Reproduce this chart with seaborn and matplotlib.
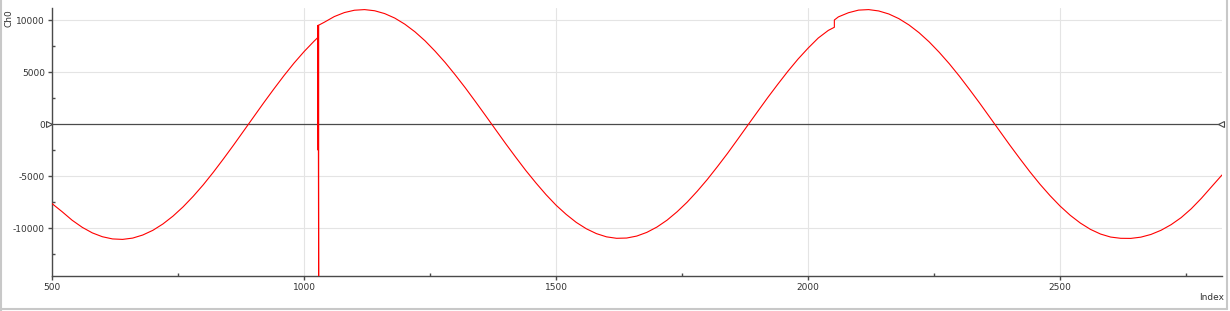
import matplotlib
matplotlib.use("Agg")
import matplotlib.pyplot as plt
import matplotlib.transforms as mtransforms
from matplotlib.lines import Line2D
import seaborn as sns
import pandas as pd

# ---- data ----
index_a = [500, 520, 540, 560, 580, 600, 620, 640, 660, 680, 700, 720, 740, 760, 780,
           800, 820, 840, 860, 880, 900, 920, 940, 960, 980, 1000, 1020, 1027]
ch0_a = [-7650, -8430, -9255, -9935, -10470, -10840, -11050, -11095, -10970, -10675,
         -10225, -9613, -8858, -7970, -6960, -5850, -4640, -3360, -2040, -680, 680,
         2040, 3360, 4640, 5850, 6960, 7970, 8300]

# glitch around index 1028
index_glitch = [1028, 1028, 1028, 1029, 1029]
ch0_glitch = [9500, -2500, 9450, -16000, 9500]

index_b = [1040, 1060, 1080, 1100, 1120, 1140, 1160, 1180, 1200, 1220, 1240, 1260, 1280,
           1300, 1320, 1340, 1360, 1380, 1400, 1420, 1440, 1460, 1480, 1500, 1520, 1540,
           1560, 1580, 1600, 1620, 1640, 1660, 1680, 1700, 1720, 1740, 1760, 1780, 1800,
           1820, 1840, 1860, 1880, 1900, 1920, 1940, 1960, 1980, 2000, 2020, 2040, 2052]
ch0_b = [9780, 10330, 10715, 10940, 11000, 10890, 10615, 10185, 9595, 8865, 8000, 7000,
         5910, 4720, 3470, 2155, 815, -540, -1890, -3200, -4475, -5665, -6790, -7810,
         -8690, -9460, -10075, -10540, -10850, -10990, -10965, -10775, -10420, -9910,
         -9250, -8440, -7515, -6465, -5330, -4100, -2830, -1490, -135, 1210, 2550, 3835,
         5080, 6245, 7300, 8265, 9000, 9300]

index_c = [2052, 2060, 2080, 2100, 2120, 2140, 2160, 2180, 2200, 2220, 2240, 2260, 2280,
           2300, 2320, 2340, 2360, 2380, 2400, 2420, 2440, 2460, 2480, 2500, 2520, 2540,
           2560, 2580, 2600, 2620, 2640, 2660, 2680, 2700, 2720, 2740, 2760, 2780, 2800, 2821]
ch0_c = [10000, 10300, 10700, 10950, 11000, 10870, 10580, 10130, 9525, 8780, 7900, 6895,
         5795, 4600, 3330, 2025, 675, -675, -2025, -3330, -4600, -5795, -6895, -7900,
         -8780, -9525, -10130, -10580, -10870, -10990, -11000, -10880, -10620, -10220,
         -9680, -9000, -8150, -7150, -6050, -4900]

x_ticks = [500, 1000, 1500, 2000, 2500]
y_ticks = [-10000, -5000, 0, 5000, 10000]
y_tick_labels = ["-10000", "-5000", "0", "5000", "10000"]

df = pd.DataFrame({
    "Index": index_a + index_glitch + index_b + index_c,
    "Ch0": ch0_a + ch0_glitch + ch0_b + ch0_c,
})

sns.set_style("white")
plt.rcParams["font.family"] = ["DejaVu Sans"]

fig = plt.figure(figsize=(12.3, 3.11), dpi=100)
ax = fig.add_axes([52 / 1230, 1 - 276 / 311, (1222 - 52) / 1230, (276 - 8) / 311])

ax.set_xlim(500, 2821)
ax.set_ylim(-14615, 11154)

# grid
for xv in x_ticks:
    ax.axvline(xv, color="#e4e4e4", lw=0.8, zorder=0)
for yv in y_ticks:
    if yv != 0:
        ax.axhline(yv, color="#e4e4e4", lw=0.8, zorder=0)
ax.axhline(0, color="#4a4a4a", lw=0.9, zorder=1)

sns.lineplot(data=df, x="Index", y="Ch0", estimator=None, sort=False,
             color="#ff0000", linewidth=0.8, ax=ax, zorder=3)

ax.set_xlabel("")
ax.set_ylabel("")

for s in ["top", "right"]:
    ax.spines[s].set_visible(False)
for s in ["left", "bottom"]:
    ax.spines[s].set_color("#4a4a4a")
    ax.spines[s].set_linewidth(1)

ax.set_xticks(x_ticks)
ax.set_xticklabels([str(v) for v in x_ticks])
ax.set_yticks(y_ticks)
ax.set_yticklabels(y_tick_labels)
ax.set_xticks([750, 1250, 1750, 2250, 2750], minor=True)
ax.set_yticks([-12500, -7500, -2500, 2500, 7500], minor=True)
ax.tick_params(axis="both", which="major", direction="out", length=3, width=1,
               color="#4a4a4a", labelsize=6.5, labelcolor="#333333", pad=2, left=True, bottom=True)
ax.tick_params(axis="both", which="minor", direction="in", length=2, width=1,
               color="#4a4a4a", left=True, bottom=True)

# zero-line markers
left_off = mtransforms.offset_copy(ax.transData, fig=fig, x=-3, y=0, units="dots")
ax.plot([500], [0], marker=">", ms=4, mfc="white", mec="#4a4a4a", mew=0.8,
        transform=left_off, clip_on=False, zorder=5)
right_off = mtransforms.offset_copy(ax.transData, fig=fig, x=-1, y=0, units="dots")
ax.plot([2821], [0], marker="<", ms=4, mfc="white", mec="#4a4a4a", mew=0.8,
        transform=right_off, clip_on=False, zorder=5)

fig.text(9 / 1230, 1 - 18 / 311, "Ch0", rotation=90, ha="center", va="center",
         fontsize=6.5, color="#333333")
fig.text(1212 / 1230, 1 - 298 / 311, "Index", ha="center", va="center",
         fontsize=6.5, color="#333333")

# outer frame
frame_kw = dict(color="#c8c8c8", lw=1.5, transform=fig.transFigure)
fig.add_artist(Line2D([1 / 1230, 1 / 1230], [0, 1], **frame_kw))
fig.add_artist(Line2D([0, 1227 / 1230], [1 - 309 / 311, 1 - 309 / 311], **frame_kw))
fig.add_artist(Line2D([1227 / 1230, 1227 / 1230], [1 - 309 / 311, 1], **frame_kw))

fig.savefig("out.png", dpi=100)
